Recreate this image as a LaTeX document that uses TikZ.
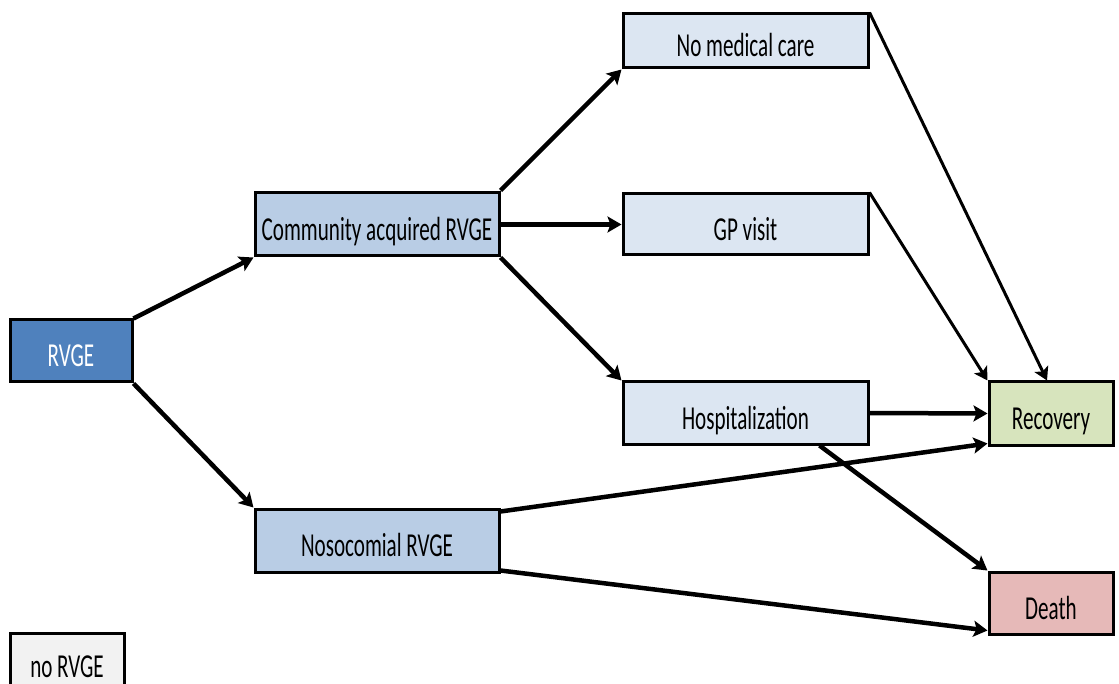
\documentclass[tikz,border=0pt]{standalone}
\usepackage{fontspec}
\setmainfont{Carlito}[FakeStretch=0.63]
\usetikzlibrary{arrows.meta}

\definecolor{rvgeblue}{HTML}{4F81BD}
\definecolor{midblue}{HTML}{B9CDE5}
\definecolor{paleblue}{HTML}{DCE6F2}
\definecolor{recgreen}{HTML}{D7E4BD}
\definecolor{deathred}{HTML}{E6B9B8}
\definecolor{nogrey}{HTML}{F2F2F2}

\begin{document}
\begin{tikzpicture}[x=1pt,y=-1pt,
  box/.style={draw=black, line width=3pt, rectangle, inner sep=0pt,
    text height=32pt, text depth=0pt, font=\fontsize{33.5}{36}\selectfont},
  flow/.style={draw=black, line width=4.5pt,
    -{Stealth[length=14pt,width=16pt,inset=3pt]}},
  thinflow/.style={draw=black, line width=3pt,
    -{Stealth[length=13pt,width=15pt,inset=3pt]}}]

\clip (0,0) rectangle (1119,684);

% states
\node[box, fill=rvgeblue, text=white, minimum width=122pt, minimum height=62pt] (rvge) at (71,351) {RVGE};
\node[box, fill=midblue, minimum width=244pt, minimum height=63pt] (comm) at (377,224.5) {Community acquired RVGE};
\node[box, fill=midblue, minimum width=244pt, minimum height=63pt] (noso) at (377,540.5) {Nosocomial RVGE};
\node[box, fill=paleblue, minimum width=245pt, minimum height=54pt] (nomed) at (745.5,41) {No medical care};
\node[box, fill=paleblue, minimum width=245pt, minimum height=61pt] (gp) at (745.5,224.5) {GP visit};
\node[box, fill=paleblue, minimum width=245pt, minimum height=62pt] (hosp) at (745.5,413) {Hospitalization};
\node[box, fill=recgreen, minimum width=124pt, minimum height=63pt] (rec) at (1051,413.5) {Recovery};
\node[box, fill=deathred, minimum width=124pt, minimum height=62pt] (death) at (1051,603) {Death};
\node[box, fill=nogrey, minimum width=114pt, minimum height=56pt] (norvge) at (67,661) {no RVGE};

% transitions
\draw[flow] (rvge.north east) -- (comm.south west);
\draw[flow] (rvge.south east) -- (noso.north west);
\draw[flow] ([yshift=1pt]comm.north east) -- (nomed.south west);
\draw[flow] (comm.east) -- (gp.west);
\draw[flow] (comm.south east) -- (hosp.north west);
\draw[thinflow] (nomed.north east) -- ([xshift=-4pt]rec.north);
\draw[thinflow] (gp.north east) -- (rec.north west);
\draw[flow] (hosp.east) -- (rec.west);
\draw[flow] ([xshift=-50pt]hosp.south east) -- (death.north west);
\draw[flow] ([yshift=-4pt]noso.north east) -- ([yshift=3pt]rec.south west);
\draw[flow] ([yshift=3pt]noso.south east) -- ([yshift=5pt]death.south west);
\end{tikzpicture}
\end{document}
